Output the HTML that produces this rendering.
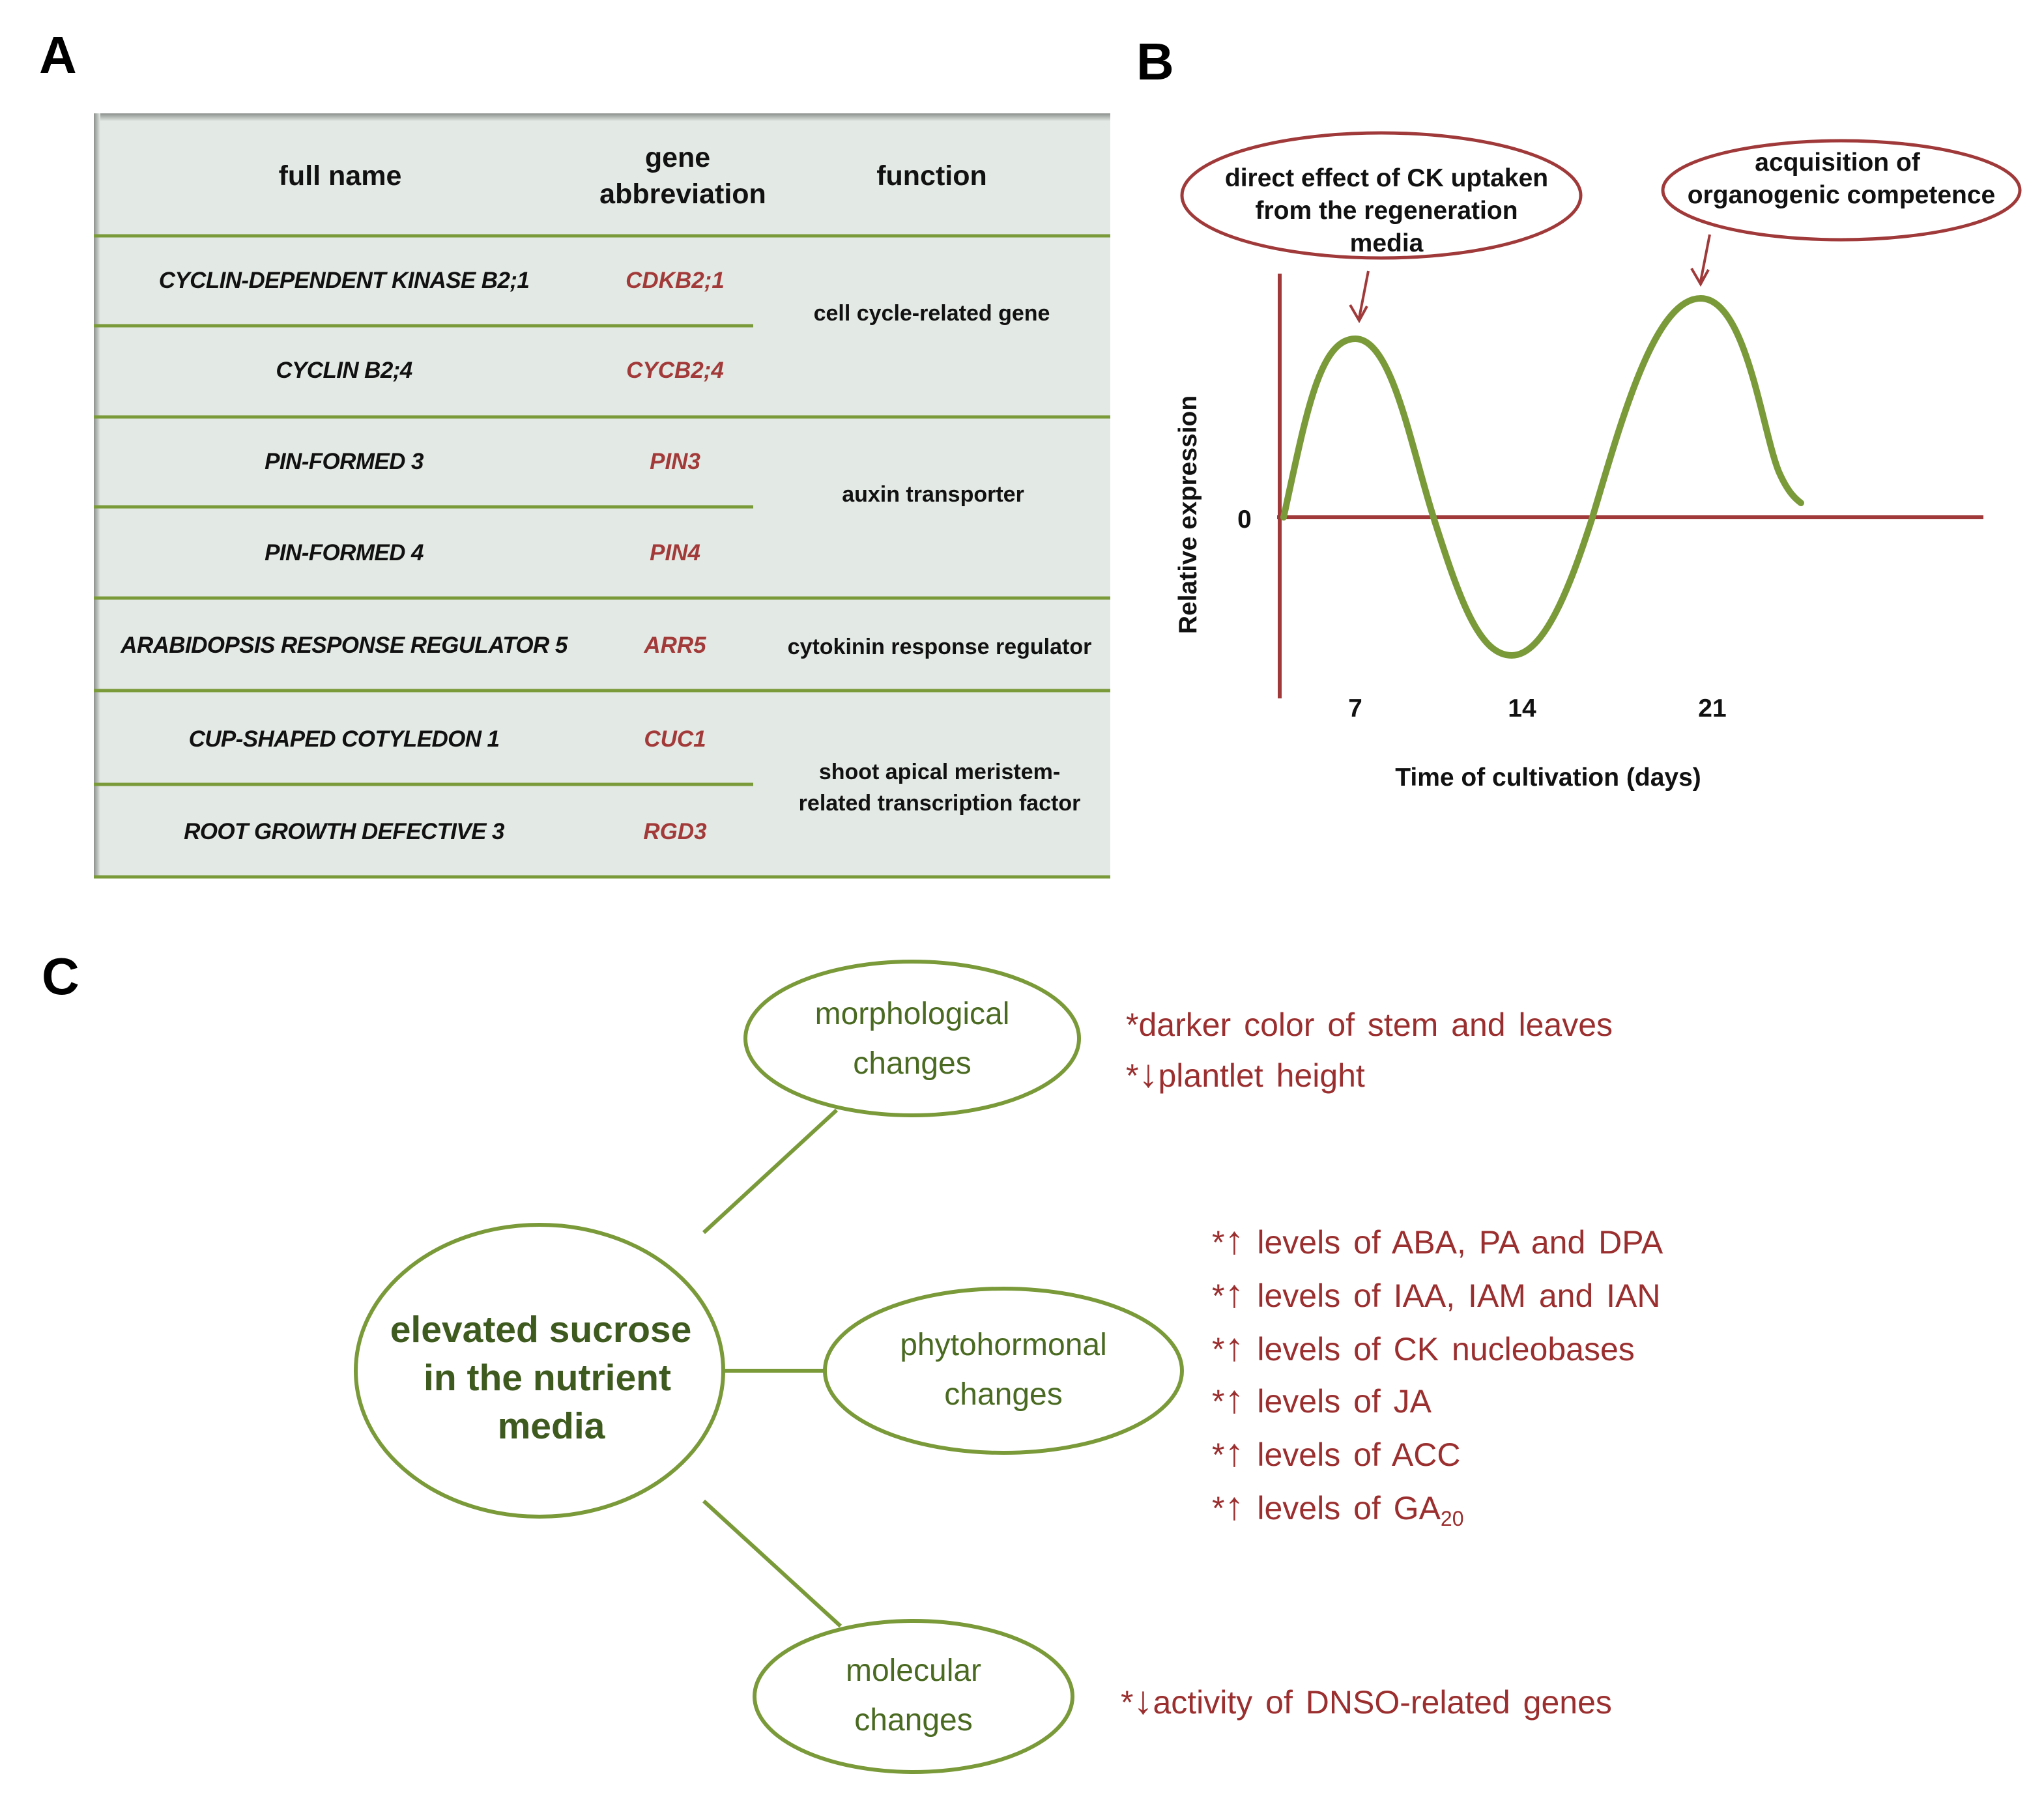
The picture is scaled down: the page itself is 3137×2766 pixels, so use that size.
<!DOCTYPE html>
<html><head><meta charset="utf-8"><style>html,body{margin:0;padding:0;background:#fff}svg{display:block}</style></head><body>
<svg xmlns="http://www.w3.org/2000/svg" width="3137" height="2766" viewBox="0 0 1568.5 1383" font-family="Liberation Sans, sans-serif">
<defs><linearGradient id="tg" x1="0" y1="0" x2="0" y2="1"><stop offset="0" stop-color="#8a8f8b"/><stop offset="1" stop-color="#e3e9e4"/></linearGradient>
<linearGradient id="lg" x1="0" y1="0" x2="1" y2="0"><stop offset="0" stop-color="#8a8f8b"/><stop offset="1" stop-color="#e3e9e4"/></linearGradient></defs>
<text x="30" y="56" font-size="40" font-weight="bold">A</text>
<text x="872" y="61" font-size="40" font-weight="bold">B</text>
<text x="32" y="763" font-size="40" font-weight="bold">C</text>
<!-- table -->
<rect x="72" y="87" width="780" height="586" fill="#e3e9e4"/>
<rect x="72" y="87" width="780" height="6" fill="url(#tg)"/>
<rect x="72" y="87" width="5" height="586" fill="url(#lg)"/>
<g stroke="#7a9a3a" stroke-width="2.5">
<line x1="72" y1="181" x2="852" y2="181"/><line x1="72" y1="250" x2="578" y2="250"/>
<line x1="72" y1="320" x2="852" y2="320"/><line x1="72" y1="389" x2="578" y2="389"/>
<line x1="72" y1="459" x2="852" y2="459"/><line x1="72" y1="530" x2="852" y2="530"/>
<line x1="72" y1="602" x2="578" y2="602"/><line x1="72" y1="673" x2="852" y2="673"/></g>
<g font-size="21.5" font-weight="bold" text-anchor="middle" fill="#111">
<text x="261" y="142">full name</text><text x="520" y="128">gene</text><text x="524" y="156">abbreviation</text><text x="715" y="142">function</text></g>
<g font-size="17.5" font-weight="bold" font-style="italic" text-anchor="middle" fill="#111" letter-spacing="-0.3">
<text x="264" y="221">CYCLIN-DEPENDENT KINASE B2;1</text><text x="264" y="290">CYCLIN B2;4</text>
<text x="264" y="360">PIN-FORMED 3</text><text x="264" y="430">PIN-FORMED 4</text>
<text x="264" y="501">ARABIDOPSIS RESPONSE REGULATOR 5</text><text x="264" y="573">CUP-SHAPED COTYLEDON 1</text>
<text x="264" y="644">ROOT GROWTH DEFECTIVE 3</text></g>
<g font-size="17.5" font-weight="bold" font-style="italic" text-anchor="middle" fill="#a33a3a">
<text x="518" y="221">CDKB2;1</text><text x="518" y="290">CYCB2;4</text><text x="518" y="360">PIN3</text>
<text x="518" y="430">PIN4</text><text x="518" y="501">ARR5</text><text x="518" y="573">CUC1</text><text x="518" y="644">RGD3</text></g>
<g font-size="17" font-weight="bold" text-anchor="middle" fill="#111">
<text x="715" y="246">cell cycle-related gene</text><text x="716" y="385">auxin transporter</text>
<text x="721" y="502">cytokinin response regulator</text><text x="721" y="598">shoot apical meristem-</text>
<text x="721" y="622">related transcription factor</text></g>
<!-- B -->
<g stroke="#a03a3a" stroke-width="3" fill="none">
<line x1="982" y1="210" x2="982" y2="536"/><line x1="980" y1="397" x2="1522" y2="397"/>
<ellipse cx="1060" cy="150" rx="153" ry="48" stroke-width="2.5"/>
<ellipse cx="1413" cy="146" rx="137" ry="38" stroke-width="2.5"/>
<line x1="1050" y1="208" x2="1043" y2="244" stroke-width="2"/><path d="M1036 234 L1043 246 L1049 235" stroke-width="2"/>
<line x1="1312" y1="180" x2="1305" y2="216" stroke-width="2"/><path d="M1298 206 L1305 218 L1311 207" stroke-width="2"/>
</g>
<path d="M985 397 C1002 320 1012 260 1040 260 C1068 260 1082 340 1100 397 C1120 460 1135 503 1160 503 C1185 503 1205 450 1222 397 C1245 320 1270 229 1305 229 C1340 229 1352 330 1365 362 C1372 378 1378 383 1382 386" stroke="#7a9a3a" stroke-width="5" fill="none" stroke-linecap="round"/>
<g font-size="19.5" font-weight="bold" text-anchor="middle" fill="#111">
<text x="1064" y="143">direct effect of CK uptaken</text><text x="1064" y="168">from the regeneration</text><text x="1064" y="193">media</text>
<text x="1410" y="131">acquisition of</text><text x="1413" y="156">organogenic competence</text>
<text x="955" y="405">0</text><text x="1040" y="550">7</text><text x="1168" y="550">14</text><text x="1314" y="550">21</text>
<text x="1188" y="603">Time of cultivation (days)</text>
<text transform="translate(918 395) rotate(-90)">Relative expression</text></g>
<!-- C -->
<g stroke="#7a9a3a" stroke-width="3" fill="none">
<ellipse cx="414" cy="1052" rx="141" ry="112"/><ellipse cx="700" cy="797" rx="128" ry="59"/>
<ellipse cx="770" cy="1052" rx="137" ry="63"/><ellipse cx="701" cy="1302" rx="122" ry="58"/>
<line x1="540" y1="946" x2="642" y2="852"/><line x1="555" y1="1052" x2="633" y2="1052"/><line x1="540" y1="1152" x2="645" y2="1248"/></g>
<g font-size="28.5" font-weight="bold" text-anchor="middle" fill="#3f5a1f">
<text x="415" y="1030">elevated sucrose</text><text x="420" y="1067">in the nutrient</text><text x="423" y="1104">media</text></g>
<g font-size="24" text-anchor="middle" fill="#4a6a22">
<text x="700" y="786">morphological</text><text x="700" y="824">changes</text>
<text x="770" y="1040">phytohormonal</text><text x="770" y="1078">changes</text>
<text x="701" y="1290">molecular</text><text x="701" y="1328">changes</text></g>
<g font-size="25" fill="#9b2f2f" xml:space="preserve" word-spacing="3">
<text x="864" y="795">*darker color of stem and leaves</text><text x="864" y="834">*<tspan font-size="30">↓</tspan>plantlet height</text>
<text x="930" y="962">*<tspan font-size="30">↑</tspan> levels of  ABA, PA and DPA</text><text x="930" y="1003">*<tspan font-size="30">↑</tspan> levels of IAA, IAM and IAN</text>
<text x="930" y="1044">*<tspan font-size="30">↑</tspan> levels of  CK nucleobases</text><text x="930" y="1084">*<tspan font-size="30">↑</tspan> levels of  JA</text>
<text x="930" y="1125">*<tspan font-size="30">↑</tspan> levels of  ACC</text><text x="930" y="1166">*<tspan font-size="30">↑</tspan> levels of  GA<tspan font-size="16" dy="5">20</tspan></text>
<text x="860" y="1315">*<tspan font-size="30">↓</tspan>activity of DNSO-related genes</text></g>
</svg>
</body></html>
